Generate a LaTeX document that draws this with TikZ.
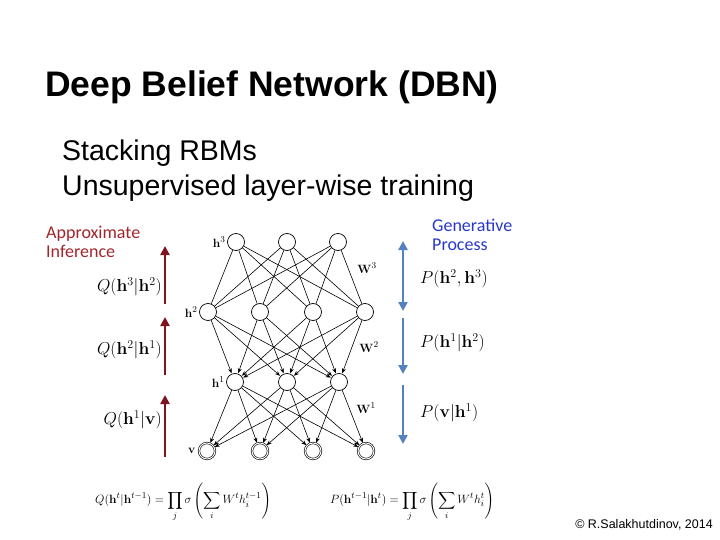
\documentclass[tikz,border=0pt]{standalone}
\usepackage{amsmath}
\usepackage[no-math]{fontspec}
\setmainfont{Liberation Sans}
\newfontfamily\calibri{Carlito}
\usepackage{xcolor}
\usepackage{tikz}
\usetikzlibrary{arrows.meta, positioning}

\definecolor{infred}{RGB}{125,20,32}
\definecolor{infredtext}{RGB}{160,38,44}
\definecolor{genblue}{RGB}{84,130,190}
\definecolor{genbluetext}{RGB}{40,55,205}

\begin{document}
\begin{tikzpicture}[
  x=1pt, y=-1pt,
  unit/.style={circle, draw=black, line width=0.7pt, fill=white, minimum size=17pt, inner sep=0pt},
  visible/.style={circle, draw=black, line width=0.6pt, double, double distance=1pt, fill=white, minimum size=16pt, inner sep=0pt},
  link/.style={line width=0.6pt},
  arrow/.style={line width=0.6pt, -{Stealth[length=5pt, width=4pt]}, shorten >=0.5pt},
  infer/.style={draw=infred, line width=2.6pt, -{Triangle[length=9pt, width=9pt]}},
  gen/.style={draw=genblue, line width=2.6pt, -{Triangle[length=9pt, width=9pt]}},
  gen2/.style={draw=genblue, line width=2.6pt, {Triangle[length=9pt, width=9pt]}-{Triangle[length=9pt, width=9pt]}},
  title/.style={font=\fontsize{35.5}{40}\selectfont\bfseries, inner sep=0pt},
  body/.style={font=\fontsize{28.5}{32}\selectfont, inner sep=0pt},
  note/.style={font=\calibri\fontsize{18}{20}\selectfont, inner sep=0pt, align=left},
  cond/.style={font=\fontsize{17}{19}\selectfont, inner sep=0pt},
  lbl/.style={font=\fontsize{13}{14}\selectfont, inner sep=0pt},
  formula/.style={font=\fontsize{12.5}{15}\selectfont, inner sep=0pt}
]
\useasboundingbox (0,0) rectangle (720,540);

% Text
\node (title) [title, anchor=west] at (45,87) {Deep Belief Network (DBN)};
\node (stack) [body, anchor=west] at (62,153) {Stacking RBMs};
\node (unsup) [body, anchor=west] at (62,188) {Unsupervised layer-wise training};

% Units
\foreach \i/\x in {1/236, 2/287, 3/338}
  \node (h3-\i) [unit] at (\x,242) {};
\foreach \i/\x in {1/208, 2/260, 3/313, 4/365}
  \node (h2-\i) [unit] at (\x,312) {};
\foreach \i/\x in {1/235, 2/287, 3/339}
  \node (h1-\i) [unit] at (\x,382) {};
\foreach \i/\x in {1/207, 2/260, 3/313, 4/366}
  \node (v-\i) [visible] at (\x,451) {};

% Layer names and weights
\node (lh3) [lbl, left=1.5pt of h3-1] {$\mathbf{h}^3$};
\node (lh2) [lbl, left=1.5pt of h2-1] {$\mathbf{h}^2$};
\node (lh1) [lbl, left=1.5pt of h1-1] {$\mathbf{h}^1$};
\node (lv) [lbl, left=3pt of v-1] {$\mathbf{v}$};
\node (w3) [lbl] at (367,268) {$\mathbf{W}^3$};
\node (w2) [lbl] at (369,347) {$\mathbf{W}^2$};
\node (w1) [lbl] at (366,408) {$\mathbf{W}^1$};

% Connections
\foreach \i in {1,2,3}
  \foreach \j in {1,2,3,4}
    \draw [link] (h3-\i) -- (h2-\j);
\foreach \i in {1,2,3,4}
  \foreach \j in {1,2,3}
    \draw [arrow] (h2-\i) -- (h1-\j);
\foreach \i in {1,2,3}
  \foreach \j in {1,2,3,4}
    \draw [arrow] (h1-\i) -- (v-\j);

% Approximate inference
\node (inf) [note, text=infredtext, anchor=north west] at (46,226) {Approximate\\[-1pt]Inference};
\coordinate (i3a) at (165,304);
\coordinate (i3b) at (165,246);
\coordinate (i2a) at (165,375);
\coordinate (i2b) at (165,317);
\coordinate (i1a) at (165,457);
\coordinate (i1b) at (165,395);
\draw [infer] (i3a) -- (i3b);
\draw [infer] (i2a) -- (i2b);
\draw [infer] (i1a) -- (i1b);
\node (q3) [cond, anchor=east] at (162,287) {$Q(\mathbf{h}^3|\mathbf{h}^2)$};
\node (q2) [cond, anchor=east] at (162,350) {$Q(\mathbf{h}^2|\mathbf{h}^1)$};
\node (q1) [cond, anchor=east] at (162,420) {$Q(\mathbf{h}^1|\mathbf{v})$};

% Generative process
\node (genp) [note, text=genbluetext, anchor=north west] at (432,219) {Generative\\[-1pt]Process};
\coordinate (g3a) at (403,241);
\coordinate (g3b) at (403,311);
\coordinate (g2a) at (403,318);
\coordinate (g2b) at (403,374);
\coordinate (g1a) at (403,385);
\coordinate (g1b) at (403,444);
\draw [gen2] (g3a) -- (g3b);
\draw [gen] (g2a) -- (g2b);
\draw [gen] (g1a) -- (g1b);
\node (p3) [cond, anchor=west] at (420,279) {$P(\mathbf{h}^2,\mathbf{h}^3)$};
\node (p2) [cond, anchor=west] at (420,343) {$P(\mathbf{h}^1|\mathbf{h}^2)$};
\node (p1) [cond, anchor=west] at (420,413) {$P(\mathbf{v}|\mathbf{h}^1)$};

% Layer-wise formulas
\node (qform) [formula, anchor=west] at (95,502) {$\displaystyle Q(\mathbf{h}^t|\mathbf{h}^{t-1}) = \prod_j \sigma\left(\sum_i W^t h_i^{t-1}\right)$};
\node (pform) [formula, anchor=west] at (330,502) {$\displaystyle P(\mathbf{h}^{t-1}|\mathbf{h}^t) = \prod_j \sigma\left(\sum_i W^t h_i^t\right)$};

\node (copy) [font=\fontsize{12.5}{14}\selectfont, inner sep=0pt, anchor=east] at (713,525) {\textcopyright{} R.Salakhutdinov, 2014};
\end{tikzpicture}
\end{document}
